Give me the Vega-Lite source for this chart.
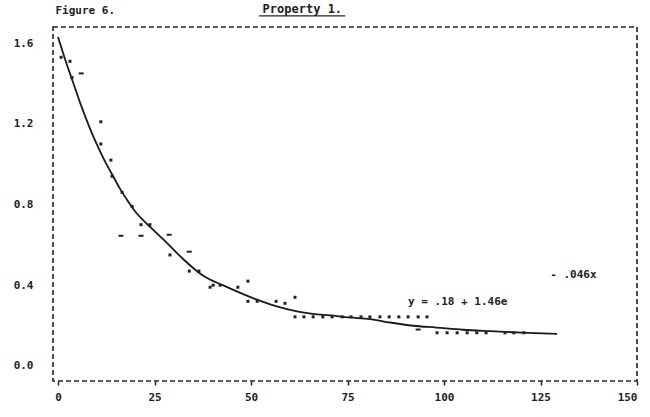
{
  "$schema": "https://vega.github.io/schema/vega-lite/v6.json",
  "width": 584,
  "height": 354,
  "autosize": "none",
  "padding": {"left": 53, "top": 27, "right": 13, "bottom": 36},
  "background": "white",
  "config": {
    "view": {"stroke": "#222", "strokeWidth": 1.6, "strokeDash": [5, 3]},
    "font": "DejaVu Sans Mono",
    "axis": {
      "grid": false,
      "domain": false,
      "labelFont": "DejaVu Sans Mono",
      "labelFontSize": 11,
      "labelFontWeight": "bold",
      "labelColor": "#222",
      "titleFont": "DejaVu Sans Mono",
      "titleColor": "#222"
    }
  },
  "datasets": {
    "curve": [
      {"x": 0, "y": 1.63}, {"x": 2, "y": 1.51}, {"x": 4, "y": 1.4}, {"x": 6, "y": 1.29},
      {"x": 8, "y": 1.19}, {"x": 10, "y": 1.1}, {"x": 12, "y": 1.02}, {"x": 14, "y": 0.95},
      {"x": 16, "y": 0.88}, {"x": 18, "y": 0.82}, {"x": 20, "y": 0.765}, {"x": 23.8, "y": 0.69},
      {"x": 28.2, "y": 0.61}, {"x": 32.4, "y": 0.53}, {"x": 37.6, "y": 0.447}, {"x": 42.7, "y": 0.4},
      {"x": 49.7, "y": 0.342}, {"x": 56.7, "y": 0.295}, {"x": 61.9, "y": 0.27}, {"x": 66, "y": 0.258},
      {"x": 70.5, "y": 0.25}, {"x": 75.6, "y": 0.24}, {"x": 80.8, "y": 0.232}, {"x": 86, "y": 0.215},
      {"x": 92, "y": 0.199}, {"x": 98, "y": 0.19}, {"x": 104.9, "y": 0.179}, {"x": 112, "y": 0.172},
      {"x": 120, "y": 0.165}, {"x": 129.3, "y": 0.159}
    ],
    "dots": [
      {"x": 0.8, "y": 1.53}, {"x": 3.1, "y": 1.51}, {"x": 3.6, "y": 1.43}, {"x": 11.1, "y": 1.21},
      {"x": 11.1, "y": 1.1}, {"x": 13.7, "y": 1.02}, {"x": 14, "y": 0.94}, {"x": 16.6, "y": 0.86},
      {"x": 19.2, "y": 0.79}, {"x": 21.5, "y": 0.7}, {"x": 23.8, "y": 0.7}, {"x": 29, "y": 0.55},
      {"x": 34, "y": 0.47}, {"x": 36.5, "y": 0.47}, {"x": 39.4, "y": 0.39}, {"x": 40.2, "y": 0.4},
      {"x": 42, "y": 0.4}, {"x": 46.6, "y": 0.39}, {"x": 49.2, "y": 0.42}, {"x": 49.2, "y": 0.32},
      {"x": 51.6, "y": 0.32}, {"x": 56.5, "y": 0.32}, {"x": 58.8, "y": 0.31}, {"x": 61.4, "y": 0.34},
      {"x": 61.4, "y": 0.243}, {"x": 63.7, "y": 0.243}, {"x": 66.1, "y": 0.243}, {"x": 68.6, "y": 0.243},
      {"x": 71, "y": 0.243}, {"x": 73.6, "y": 0.243}, {"x": 75.9, "y": 0.243}, {"x": 78.5, "y": 0.243},
      {"x": 80.8, "y": 0.243}, {"x": 83.4, "y": 0.243}, {"x": 85.8, "y": 0.243}, {"x": 88.3, "y": 0.243},
      {"x": 90.7, "y": 0.243}, {"x": 93.3, "y": 0.243}, {"x": 95.6, "y": 0.243},
      {"x": 98.2, "y": 0.164}, {"x": 100.8, "y": 0.164}, {"x": 103.4, "y": 0.164}, {"x": 106, "y": 0.164},
      {"x": 108.5, "y": 0.164}, {"x": 110.9, "y": 0.164}, {"x": 115.8, "y": 0.164}, {"x": 118.1, "y": 0.164},
      {"x": 120.7, "y": 0.164}
    ],
    "dashes": [
      {"x": 6, "y": 1.45}, {"x": 16.3, "y": 0.645}, {"x": 21.5, "y": 0.645}, {"x": 28.8, "y": 0.65},
      {"x": 34, "y": 0.566}, {"x": 93.3, "y": 0.18}
    ]
  },
  "layer": [
    {
      "data": {"name": "curve"},
      "mark": {"type": "line", "color": "#1a1a1a", "strokeWidth": 1.8, "interpolate": "monotone"},
      "encoding": {
        "x": {
          "field": "x", "type": "quantitative",
          "scale": {"domain": [-1.3, 150], "nice": false, "zero": false},
          "axis": {"values": [0, 25, 50, 75, 100, 125, 150], "title": null, "ticks": true, "tickSize": 4, "tickColor": "#222", "tickWidth": 1.5, "labelPadding": 6}
        },
        "y": {
          "field": "y", "type": "quantitative",
          "scale": {"domain": [-0.075, 1.68], "nice": false, "zero": false},
          "axis": {
            "values": [0, 0.4, 0.8, 1.2, 1.6], "format": ".1f", "ticks": false, "labelPadding": 20,
            "title": "Figure 6.", "titleAngle": 0, "titleX": 2, "titleY": -17, "titleAlign": "left",
            "titleBaseline": "middle", "titleFontSize": 11, "titleFontWeight": "bold"
          }
        }
      }
    },
    {
      "data": {"name": "dots"},
      "mark": {"type": "point", "shape": "square", "filled": true, "size": 9, "color": "#222", "opacity": 1},
      "encoding": {
        "x": {"field": "x", "type": "quantitative"},
        "y": {"field": "y", "type": "quantitative"}
      }
    },
    {
      "data": {"name": "dashes"},
      "mark": {"type": "point", "shape": "M-1,0L1,0", "filled": false, "size": 25, "stroke": "#222", "strokeWidth": 2, "opacity": 1},
      "encoding": {
        "x": {"field": "x", "type": "quantitative"},
        "y": {"field": "y", "type": "quantitative"}
      }
    },
    {
      "data": {"values": [{}]},
      "mark": {"type": "text", "text": "y = .18 + 1.46e", "align": "left", "baseline": "middle", "font": "DejaVu Sans Mono", "fontSize": 11, "fontWeight": "bold", "color": "#222"},
      "encoding": {
        "x": {"datum": 90.7, "type": "quantitative"},
        "y": {"datum": 0.318, "type": "quantitative"}
      }
    },
    {
      "data": {"values": [{}]},
      "mark": {"type": "text", "text": "- .046x", "align": "left", "baseline": "middle", "font": "DejaVu Sans Mono", "fontSize": 11, "fontWeight": "bold", "color": "#222"},
      "encoding": {
        "x": {"datum": 127.5, "type": "quantitative"},
        "y": {"datum": 0.452, "type": "quantitative"}
      }
    },
    {
      "data": {"values": [{}]},
      "mark": {"type": "text", "text": "Property 1.", "align": "center", "baseline": "middle", "font": "DejaVu Sans Mono", "fontSize": 12, "fontWeight": "bold", "color": "#222"},
      "encoding": {
        "x": {"datum": 63.3, "type": "quantitative"},
        "y": {"datum": 1.77, "type": "quantitative"}
      }
    },
    {
      "data": {"values": [{}]},
      "mark": {"type": "rule", "color": "#222", "strokeWidth": 1.2},
      "encoding": {
        "x": {"datum": 52.1, "type": "quantitative"},
        "x2": {"datum": 74.4},
        "y": {"datum": 1.735, "type": "quantitative"}
      }
    }
  ]
}
